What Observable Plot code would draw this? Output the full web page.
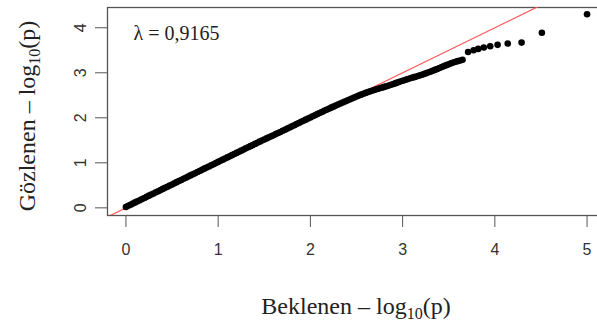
<!DOCTYPE html>
<html><head><meta charset="utf-8">
<script src="https://cdn.jsdelivr.net/npm/d3@7"></script>
<script src="https://cdn.jsdelivr.net/npm/@observablehq/plot@0.6"></script>
<style>
html,body{margin:0;padding:0;overflow:hidden;background:#fff;width:597px;height:323px}
#wrap{position:relative;width:597px;height:323px;overflow:hidden}
.ttl{position:absolute;font-family:"Liberation Serif","Times New Roman",serif;font-size:24px;color:#222;white-space:nowrap;line-height:normal}
.ttl sub{font-size:16px;vertical-align:-5px;line-height:0}
</style></head><body><div id="wrap"></div>
<script>
const expected = [
  0.000,0.025,0.050,0.075,0.100,0.125,0.150,0.175,0.200,0.225,0.250,0.275,0.300,0.325,0.350,0.375,0.400,0.425,0.450,0.475,
  0.500,0.525,0.550,0.575,0.600,0.625,0.650,0.675,0.700,0.725,0.750,0.775,0.800,0.825,0.850,0.875,0.900,0.925,0.950,0.975,
  1.000,1.025,1.050,1.075,1.100,1.125,1.150,1.175,1.200,1.225,1.250,1.275,1.300,1.325,1.350,1.375,1.400,1.425,1.450,1.475,
  1.500,1.525,1.550,1.575,1.600,1.625,1.650,1.675,1.700,1.725,1.750,1.775,1.800,1.825,1.850,1.875,1.900,1.925,1.950,1.975,
  2.000,2.025,2.050,2.075,2.100,2.125,2.150,2.175,2.200,2.225,2.250,2.275,2.300,2.325,2.350,2.375,2.400,2.425,2.450,2.475,
  2.500,2.525,2.550,2.575,2.600,2.625,2.650,2.675,2.700,2.725,2.750,2.775,2.800,2.825,2.850,2.875,2.900,2.925,2.950,2.975,
  3.000,3.025,3.050,3.075,3.100,3.125,3.150,3.175,3.200,3.225,3.250,3.275,3.300,3.325,3.350,3.375,3.400,3.425,3.450,3.475,
  3.500,3.525,3.550,3.575,3.600,3.625,3.650,
  3.71,3.77,3.82,3.88,3.95,4.03,4.14,4.29,4.51,5.00];
const observed = [
  0.020,0.046,0.070,0.094,0.121,0.145,0.170,0.196,0.220,0.244,0.271,0.295,0.320,0.346,0.370,0.394,0.421,0.445,0.470,0.496,
  0.520,0.544,0.571,0.595,0.620,0.646,0.670,0.694,0.721,0.745,0.770,0.796,0.820,0.844,0.871,0.895,0.920,0.946,0.970,0.994,
  1.021,1.045,1.070,1.096,1.120,1.144,1.171,1.195,1.220,1.246,1.270,1.294,1.321,1.345,1.370,1.396,1.420,1.444,1.470,1.495,
  1.518,1.542,1.566,1.590,1.614,1.638,1.662,1.686,1.711,1.736,1.760,1.785,1.810,1.835,1.860,1.885,1.910,1.934,1.959,1.984,
  2.008,2.033,2.057,2.082,2.106,2.130,2.154,2.178,2.201,2.225,2.248,2.271,2.294,2.317,2.340,2.362,2.384,2.406,2.428,2.450,
  2.472,2.493,2.514,2.534,2.553,2.572,2.590,2.607,2.623,2.639,2.654,2.670,2.686,2.702,2.718,2.735,2.752,2.770,2.788,2.806,
  2.824,2.840,2.856,2.872,2.888,2.903,2.918,2.934,2.951,2.968,2.986,3.004,3.023,3.043,3.064,3.085,3.106,3.127,3.148,3.169,
  3.190,3.210,3.228,3.245,3.260,3.274,3.288,
  3.46,3.50,3.53,3.56,3.59,3.62,3.65,3.67,3.89,4.30];
const abline = [-1, 6];
const xTicks = [0,1,2,3,4,5];
const yTicks = [0,1,2,3,4];
const lambdaLabel = "λ = 0,9165";
const xTitleHTML = "Beklenen – log<sub>10</sub>(p)";
const yTitleHTML = "Gözlenen – log<sub>10</sub>(p)";

const pts = expected.map((e,i)=>({e, o: observed[i]}));
const chart = Plot.plot({
  width: 610, height: 323,
  marginLeft: 107, marginTop: 7, marginRight: 5, marginBottom: 108,
  x: {domain: [-0.2, 5.2]},
  y: {domain: [-0.17, 4.45]},
  style: {fontFamily: "'Liberation Sans', Arial, sans-serif", fontSize: "16px", color: "#333", background: "white", maxWidth: "none"},
  marks: [
    Plot.frame({stroke: "#555", strokeWidth: 1.3}),
    Plot.line(abline.map(v=>({v})), {x: "v", y: "v", stroke: "#f55", strokeWidth: 1.2, clip: true}),
    Plot.dot(pts, {x: "e", y: "o", r: 3.3, fill: "black", stroke: "none"}),
    Plot.axisX({ticks: xTicks, tickSize: 12, tickPadding: 16, tickFormat: d => String(d), stroke: "#555", label: null, fontSize: 16, fill: "#333"}),
    Plot.axisY({ticks: yTicks, tickSize: 12, tickPadding: 10, tickRotate: -90, tickFormat: d => String(d), stroke: "#555", label: null, fontSize: 16, fill: "#333"}),
    Plot.text([lambdaLabel], {text: d => d, frameAnchor: "top-left", dx: 26, dy: 26, textAnchor: "start", lineAnchor: "middle", fontSize: 20, fontFamily: "'Liberation Serif', 'Times New Roman', serif", fill: "#222"})
  ]
});
chart.style.maxWidth = "none";
const wrap = document.getElementById("wrap");
chart.style.position = "absolute"; chart.style.left = "0"; chart.style.top = "0";
wrap.appendChild(chart);
const xt = document.createElement("div");
xt.className = "ttl"; xt.innerHTML = xTitleHTML;
xt.style.left = "356px"; xt.style.top = "293px"; xt.style.transform = "translateX(-50%)";
wrap.appendChild(xt);
const yt = document.createElement("div");
yt.className = "ttl"; yt.innerHTML = yTitleHTML;
yt.style.left = "27px"; yt.style.top = "116px"; yt.style.transform = "translate(-50%,-50%) rotate(-90deg)";
wrap.appendChild(yt);
</script>
</body></html>
